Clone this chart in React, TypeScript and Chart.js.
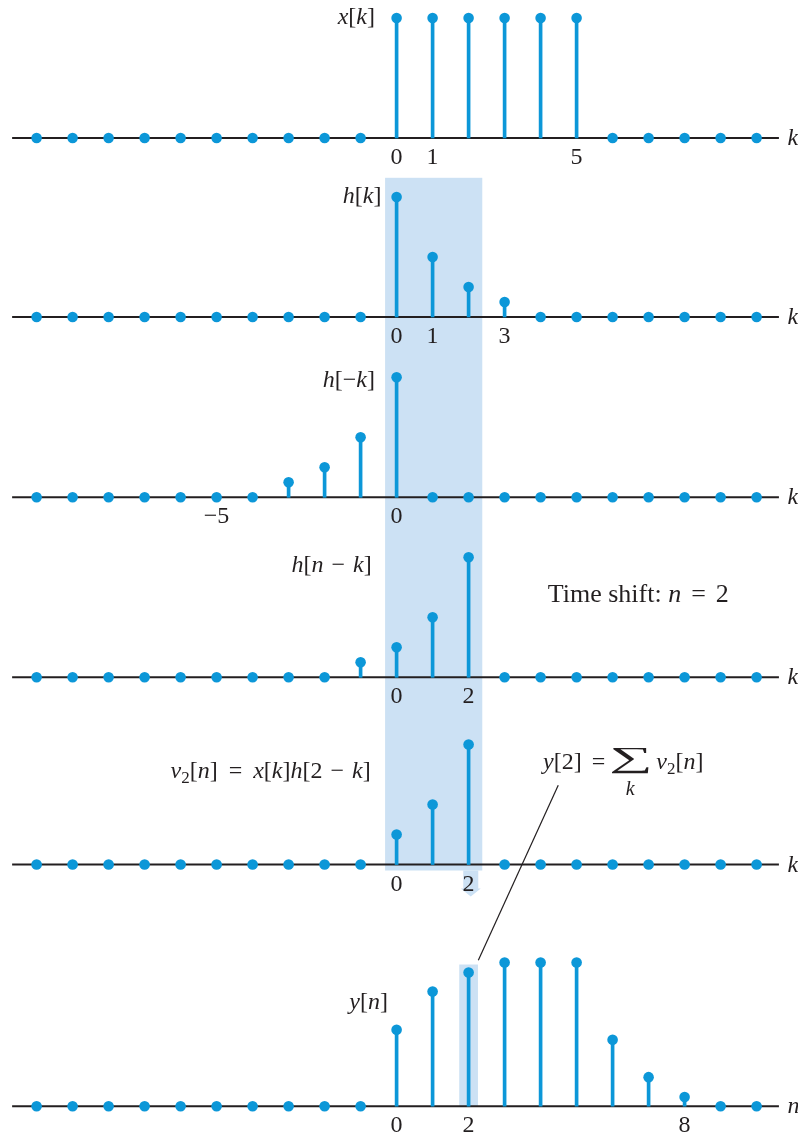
import { useEffect, useRef } from 'react';
import { Chart, registerables } from 'chart.js';

Chart.register(...registerables);

// Sample index shared by every panel
const K = [-10, -9, -8, -7, -6, -5, -4, -3, -2, -1, 0, 1, 2, 3, 4, 5, 6, 7, 8, 9, 10];

// x[k]
const xSeq = [0, 0, 0, 0, 0, 0, 0, 0, 0, 0, 1, 1, 1, 1, 1, 1, 0, 0, 0, 0, 0];
// h[k]
const hSeq = [0, 0, 0, 0, 0, 0, 0, 0, 0, 0, 1, 0.5, 0.25, 0.125, 0, 0, 0, 0, 0, 0, 0];
// h[-k]
const hRev = [0, 0, 0, 0, 0, 0, 0, 0.125, 0.25, 0.5, 1, 0, 0, 0, 0, 0, 0, 0, 0, 0, 0];
// h[n - k], n = 2
const hShift = [0, 0, 0, 0, 0, 0, 0, 0, 0, 0.125, 0.25, 0.5, 1, 0, 0, 0, 0, 0, 0, 0, 0];
// v2[n] = x[k] h[2 - k]
const v2Seq = [0, 0, 0, 0, 0, 0, 0, 0, 0, 0, 0.25, 0.5, 1, 0, 0, 0, 0, 0, 0, 0, 0];
// y[n]
const ySeq = [0, 0, 0, 0, 0, 0, 0, 0, 0, 0, 1, 1.5, 1.75, 1.88, 1.88, 1.88, 0.87, 0.38, 0.12, 0, 0];

const SERIES = [xSeq, hSeq, hRev, hShift, v2Seq, ySeq];

// Labelled positions under each axis
const ticks1 = [0, 1, 5];
const ticks2 = [0, 1, 3];
const ticks3 = [-5, 0];
const ticks4 = [0, 2];
const ticks5 = [0, 2];
const ticks6 = [0, 2, 8];
const TICKS = [ticks1, ticks2, ticks3, ticks4, ticks5, ticks6];
const AXIS_NAMES = ['k', 'k', 'k', 'k', 'k', 'n'];

// Vertical stack of panels (one y scale each)
const PANELS = [
  { id: 'y1', weight: 180, min: -0.35, max: 1.15 },
  { id: 'y2', weight: 180, min: -0.3583, max: 1.1417 },
  { id: 'y3', weight: 180, min: -0.3558, max: 1.1442 },
  { id: 'y4', weight: 180, min: -0.3558, max: 1.1442 },
  { id: 'y5', weight: 180, min: -0.2958, max: 1.2042 },
  { id: 'y6', weight: 233, min: -0.3508, max: 2.699 },
];

const X_MIN = -11.0167;
const X_MAX = 11.15;

const BLUE = '#0C97D8';
const BAND = '#CCE1F4';
const INK = '#231F20';
const SERIF = '"Liberation Serif", "Times New Roman", serif';

type Seg = { t?: string; it?: boolean; size?: number; dy?: number; gap?: number };

function segFont(s: Seg, base: number) {
  return `${s.it ? 'italic ' : ''}${s.size ?? base}px ${SERIF}`;
}

function richWidth(ctx: CanvasRenderingContext2D, segs: Seg[], base: number) {
  let w = 0;
  for (const s of segs) {
    if (s.gap) { w += s.gap; continue; }
    ctx.font = segFont(s, base);
    w += ctx.measureText(s.t || '').width;
  }
  return w;
}

function drawRich(ctx: CanvasRenderingContext2D, segs: Seg[], x: number, y: number, align: 'left' | 'right', base = 24) {
  const w = richWidth(ctx, segs, base);
  let cx = align === 'right' ? x - w : x;
  ctx.textAlign = 'left';
  ctx.textBaseline = 'alphabetic';
  for (const s of segs) {
    if (s.gap) { cx += s.gap; continue; }
    ctx.font = segFont(s, base);
    ctx.fillText(s.t || '', cx, y + (s.dy || 0));
    cx += ctx.measureText(s.t || '').width;
  }
  return cx;
}

const TITLES: { panel: number; k: number; v: number; segs: Seg[] }[] = [
  { panel: 0, k: -0.6, v: 0.95, segs: [{ t: 'x', it: true }, { t: '[' }, { t: 'k', it: true }, { t: ']' }] },
  { panel: 1, k: -0.42, v: 0.95, segs: [{ t: 'h', it: true }, { t: '[' }, { t: 'k', it: true }, { t: ']' }] },
  { panel: 2, k: -0.6, v: 0.92, segs: [{ t: 'h', it: true }, { t: '[' }, { t: '\u2212' }, { t: 'k', it: true }, { t: ']' }] },
  {
    panel: 3, k: -0.69, v: 0.877,
    segs: [{ t: 'h', it: true }, { t: '[' }, { t: 'n', it: true }, { gap: 8 }, { t: '\u2212' }, { gap: 8 }, { t: 'k', it: true }, { t: ']' }],
  },
  {
    panel: 4, k: -0.72, v: 0.72,
    segs: [
      { t: 'v', it: true }, { t: '2', size: 17, dy: 5 }, { t: '[' }, { t: 'n', it: true }, { t: ']' },
      { gap: 11 }, { t: '=' }, { gap: 11 },
      { t: 'x', it: true }, { t: '[' }, { t: 'k', it: true }, { t: ']' },
      { t: 'h', it: true }, { t: '[' }, { t: '2' }, { gap: 8 }, { t: '\u2212' }, { gap: 8 }, { t: 'k', it: true }, { t: ']' },
    ],
  },
  { panel: 5, k: -0.24, v: 1.27, segs: [{ t: 'y', it: true }, { t: '[' }, { t: 'n', it: true }, { t: ']' }] },
];

const convPlugin = {
  id: 'convDecor',
  beforeDatasetsDraw(chart: any) {
    const ctx: CanvasRenderingContext2D = chart.ctx;
    const xs = chart.scales.x;
    const ys = PANELS.map((p) => chart.scales[p.id]);
    ctx.save();

    // shaded column over the overlap region (h[k] ... v2 panels)
    ctx.fillStyle = BAND;
    const bx0 = xs.getPixelForValue(-0.32);
    const bx1 = xs.getPixelForValue(2.38);
    const by0 = ys[1].getPixelForValue(1.16);
    const by1 = ys[4].getPixelForValue(-0.05);
    ctx.fillRect(bx0, by0, bx1 - bx0, by1 - by0);

    // small arrow pointing down to y[2]
    const ax = xs.getPixelForValue(2.06);
    ctx.beginPath();
    ctx.moveTo(ax - 7.5, by1);
    ctx.lineTo(ax + 7.5, by1);
    ctx.lineTo(ax + 7.5, by1 + 18);
    ctx.lineTo(ax + 10, by1 + 18);
    ctx.lineTo(ax, by1 + 26);
    ctx.lineTo(ax - 10, by1 + 18);
    ctx.lineTo(ax - 7.5, by1 + 18);
    ctx.closePath();
    ctx.fill();

    // highlight of the y[2] sample
    const cx0 = xs.getPixelForValue(1.74);
    const cx1 = xs.getPixelForValue(2.26);
    const cTop = ys[5].getPixelForValue(ySeq[12]) - 8;
    const cBot = ys[5].getPixelForValue(0);
    ctx.fillRect(cx0, cTop, cx1 - cx0, cBot - cTop);

    // horizontal axes
    ctx.strokeStyle = INK;
    ctx.lineWidth = 2;
    const lx0 = xs.getPixelForValue(-10.68);
    const lx1 = xs.getPixelForValue(10.62);
    for (const y of ys) {
      const py = y.getPixelForValue(0);
      ctx.beginPath();
      ctx.moveTo(lx0, py);
      ctx.lineTo(lx1, py);
      ctx.stroke();
    }
    ctx.restore();
  },
  afterDatasetsDraw(chart: any) {
    const ctx: CanvasRenderingContext2D = chart.ctx;
    const xs = chart.scales.x;
    const ys = PANELS.map((p) => chart.scales[p.id]);
    ctx.save();
    ctx.fillStyle = INK;

    // tick numbers and axis names
    ys.forEach((y: any, i: number) => {
      const py = y.getPixelForValue(0);
      ctx.font = `24px ${SERIF}`;
      ctx.textAlign = 'center';
      ctx.textBaseline = 'alphabetic';
      for (const t of TICKS[i]) {
        ctx.fillText(t < 0 ? `\u2212${-t}` : String(t), xs.getPixelForValue(t), py + 26);
      }
      ctx.font = `italic 24px ${SERIF}`;
      ctx.textAlign = 'left';
      ctx.fillText(AXIS_NAMES[i], xs.getPixelForValue(10.86), py + 7);
    });

    // panel titles
    for (const tl of TITLES) {
      drawRich(ctx, tl.segs, xs.getPixelForValue(tl.k), ys[tl.panel].getPixelForValue(tl.v), 'right');
    }

    // time shift note
    drawRich(
      ctx,
      [{ t: 'Time shift: ' }, { t: 'n', it: true }, { gap: 10 }, { t: '=' }, { gap: 10 }, { t: '2' }],
      xs.getPixelForValue(4.2), ys[3].getPixelForValue(0.63), 'left', 26,
    );

    // y[2] = sum_k v2[n]
    const sx = xs.getPixelForValue(4.07);
    const sy = ys[4].getPixelForValue(0.8);
    let cx = drawRich(ctx, [{ t: 'y', it: true }, { t: '[2]' }, { gap: 10 }, { t: '=' }, { gap: 6 }], sx, sy, 'left');
    // summation sign fitted into a 38 x 26 box
    ctx.font = `40px ${SERIF}`;
    ctx.textAlign = 'left';
    const m = ctx.measureText('\u2211');
    const gw = m.actualBoundingBoxLeft + m.actualBoundingBoxRight;
    const gh = m.actualBoundingBoxAscent + m.actualBoundingBoxDescent;
    const fx = 38 / gw;
    const fy = 26 / gh;
    ctx.save();
    ctx.translate(cx + m.actualBoundingBoxLeft * fx, sy - 21 + m.actualBoundingBoxAscent * fy);
    ctx.scale(fx, fy);
    ctx.fillText('\u2211', 0, 0);
    ctx.restore();
    ctx.font = `italic 20px ${SERIF}`;
    ctx.textAlign = 'center';
    ctx.fillText('k', cx + 19, sy + 26);
    cx += 38 + 7;
    drawRich(ctx, [{ t: 'v', it: true }, { t: '2', size: 17, dy: 5 }, { t: '[' }, { t: 'n', it: true }, { t: ']' }], cx, sy, 'left');

    // leader line from the sum to the y[2] sample
    ctx.strokeStyle = INK;
    ctx.lineWidth = 1.2;
    ctx.beginPath();
    ctx.moveTo(xs.getPixelForValue(4.49), ys[4].getPixelForValue(0.66));
    ctx.lineTo(xs.getPixelForValue(2.27), ys[5].getPixelForValue(1.91));
    ctx.stroke();

    ctx.restore();
  },
};

export default function App() {
  const ref = useRef<HTMLCanvasElement | null>(null);

  useEffect(() => {
    if (!ref.current) return;
    const datasets: any[] = [];
    PANELS.forEach((p, i) => {
      const vals = SERIES[i];
      datasets.push({
        type: 'bar',
        data: K.map((k, j) => ({ x: k, y: vals[j] })).filter((d) => d.y !== 0),
        yAxisID: p.id,
        backgroundColor: BLUE,
        borderWidth: 0,
        barThickness: 3,
        grouped: false,
        order: 2,
        clip: false,
      });
      datasets.push({
        type: 'scatter',
        data: K.map((k, j) => ({ x: k, y: vals[j] })),
        yAxisID: p.id,
        pointRadius: 5.3,
        pointBackgroundColor: BLUE,
        pointBorderWidth: 0,
        showLine: false,
        order: 1,
        clip: false,
      });
    });

    const scales: any = {
      x: { type: 'linear', min: X_MIN, max: X_MAX, display: false, offset: false },
    };
    PANELS.forEach((p) => {
      scales[p.id] = {
        type: 'linear',
        position: 'right',
        stack: 'panels',
        stackWeight: p.weight,
        min: p.min,
        max: p.max,
        display: false,
      };
    });

    const chart = new Chart(ref.current, {
      type: 'bar',
      data: { datasets },
      options: {
        responsive: false,
        animation: false,
        devicePixelRatio: 1,
        events: [],
        layout: { padding: 0, autoPadding: false },
        plugins: { legend: { display: false }, tooltip: { enabled: false } },
        scales,
      } as any,
      plugins: [convPlugin],
    });
    return () => chart.destroy();
  }, []);

  return (
    <div style={{ position: 'absolute', left: 0, top: 0, width: 798, height: 1133, background: '#fff' }}>
      <canvas ref={ref} width={798} height={1133} />
    </div>
  );
}
